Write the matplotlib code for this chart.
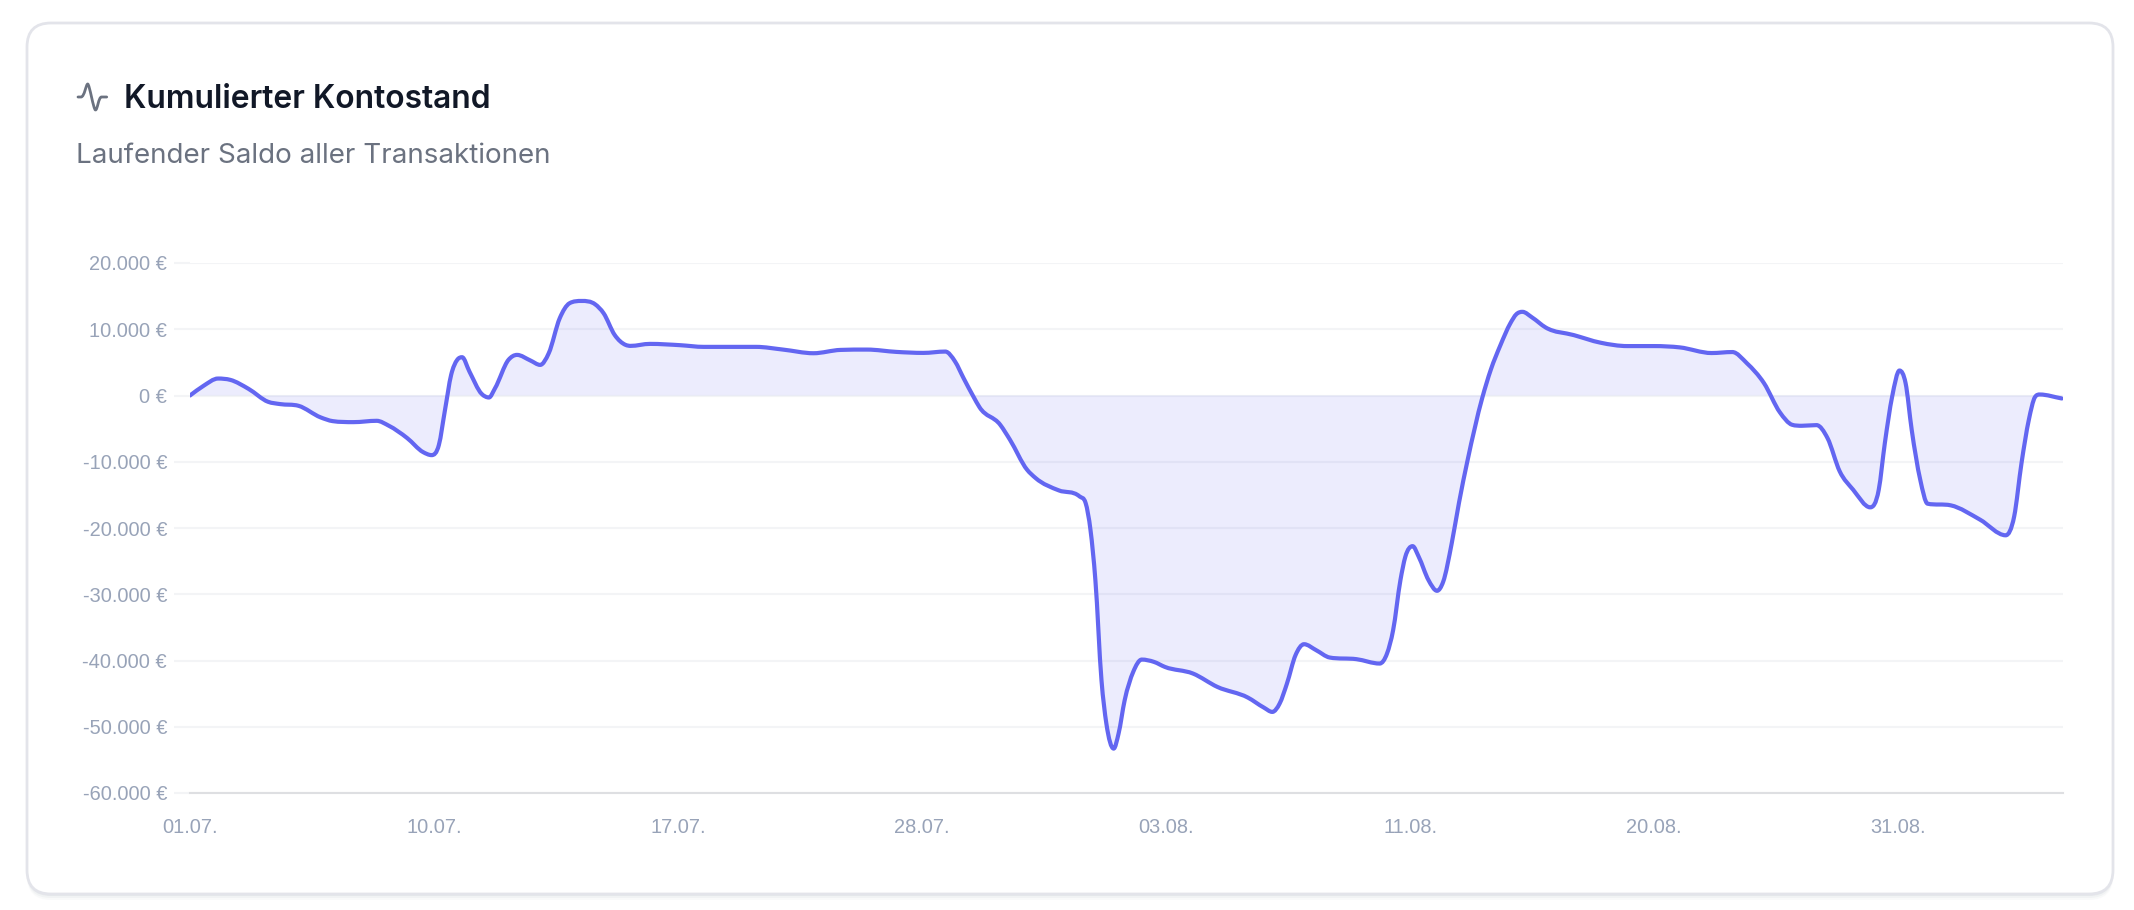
import numpy as np
import matplotlib
matplotlib.use("Agg")
import matplotlib.pyplot as plt
from matplotlib.patches import FancyBboxPatch, PathPatch
from matplotlib.path import Path

# Daten
x_pos = [0, 1.1, 2.3, 3.3, 4.8, 6.4, 7.4, 8.9, 10.7, 11.7, 13.4, 15.3, 16.3, 17.8, 19.1, 19.8,
         20.4, 20.9, 21.4, 21.9, 22.3, 22.9, 23.9, 24.5, 25.0, 26.1, 26.8, 27.9, 28.7, 29.4,
         30.3, 31.1, 32.1, 33.2, 33.9, 34.8, 35.7, 36.1, 37.7, 40.2, 42.1, 46.4, 48.6, 51.1,
         53.3, 55.5, 57.9, 60.1, 61.9, 62.7, 63.4, 64.2, 64.7, 66.4, 67.2, 68.6, 69.3, 71.2,
         72.9, 73.4, 73.8, 74.2, 74.7, 75.1, 75.7, 76.1, 76.6, 77.3, 78.0, 79.0, 79.9,
         82.2, 84.2, 86.7, 88.0, 88.7, 89.3, 89.9, 90.6, 91.3, 92.3, 93.4, 95.6, 97.5, 98.1,
         98.6, 99.2, 99.6, 100.2, 100.7, 101.5, 102.2, 102.7, 103.4, 104.0, 104.7, 105.9,
         106.6, 107.4, 108.2, 108.7, 109.2, 110.0, 111.1, 113.4, 115.6, 117.8, 120.0, 122.1,
         124.7, 126.4, 127.6, 129.0, 130.3, 131.3, 132.1, 133.3, 134.2, 135.2, 136.3, 137.7,
         138.4, 138.9, 139.5, 140.1, 140.6, 141.1, 141.8, 142.4, 144.3, 146.7, 148.8, 149.5,
         150.1, 150.7, 151.2, 151.6, 153.4]
saldo = [0, 1450, 2560, 2360, 1000, -950, -1300, -1560, -3300, -3870, -4020, -3820, -4570, -6430,
         -8540, -9000, -7440, -2160, 3100, 5380, 5780, 3620, 250, -300, 1100, 5380, 6130, 5280,
         4620, 6380, 11660, 13920, 14270, 13770, 12410, 9150, 7640, 7490, 7790, 7590, 7340, 7340,
         6930, 6380, 6880, 6930, 6580, 6430, 6630, 5130, 2610, -150, -1760, -4420, -6680, -11200,
         -12460, -14320, -15230, -16230, -20320, -27870, -42980, -49520, -53300, -51030,
         -46000, -41720, -39860, -40210, -40970, -41970, -43990, -45600, -47100, -47760, -46500,
         -43480, -39200, -37540, -38450, -39550, -39800, -40460, -38950, -35430, -27870, -24350,
         -22740, -24350, -27870, -29480, -28130, -22340, -16180, -9800, -400, 3860, 7620, 10870,
         12270, 12630, 11770, 10270, 9120, 7970, 7460, 7460, 7260, 6410, 6560, 4860, 1850, -2550,
         -4420, -4570, -4470, -6430, -11450, -14220, -16880, -14220, -7180, -150, 3770, 1860,
         -5170, -12710, -16330, -16580, -18740, -21100, -18240, -10200, -3670, -250, 150, -450]

y_ticks = [20000, 10000, 0, -10000, -20000, -30000, -40000, -50000, -60000]
y_labels = ["20.000 €", "10.000 €", "0 €", "-10.000 €", "-20.000 €", "-30.000 €",
            "-40.000 €", "-50.000 €", "-60.000 €"]
x_ticks = [0, 20, 40, 60, 80, 100, 120, 140]
x_labels = ["01.07.", "10.07.", "17.07.", "28.07.", "03.08.", "11.08.", "20.08.", "31.08."]

LINE = "#6366f1"
W, H = 2134, 910


def smooth_path(x, y):
    # kubische Kurve (Fritsch-Carlson), als Bezier-Pfad
    x = np.array(x, dtype=float)
    y = np.array(y, dtype=float)
    h = np.diff(x)
    s = np.diff(y) / h
    m = np.zeros(len(x))
    for i in range(1, len(x) - 1):
        if s[i - 1] * s[i] > 0:
            p = (s[i - 1] * h[i] + s[i] * h[i - 1]) / (h[i - 1] + h[i])
            m[i] = np.sign(s[i]) * min(abs(p), 3 * min(abs(s[i - 1]), abs(s[i])))
    m[0] = s[0]
    m[-1] = s[-1]
    verts = [(x[0], y[0])]
    codes = [Path.MOVETO]
    for i in range(len(x) - 1):
        verts += [(x[i] + h[i] / 3, y[i] + m[i] * h[i] / 3),
                  (x[i + 1] - h[i] / 3, y[i + 1] - m[i + 1] * h[i] / 3),
                  (x[i + 1], y[i + 1])]
        codes += [Path.CURVE4] * 3
    return verts, codes


fig = plt.figure(figsize=(W / 100, H / 100), dpi=100, facecolor="white")

# Karte im Pixel-Koordinatensystem
bg = fig.add_axes([0, 0, 1, 1])
bg.set_xlim(0, W)
bg.set_ylim(H, 0)
bg.axis("off")
for off, a in [(6, 0.05), (4, 0.08), (2, 0.12)]:
    bg.add_patch(FancyBboxPatch((27, 23 + off), 2086, 871, boxstyle="round,pad=0,rounding_size=24",
                                fc="#9ca3af", ec="none", alpha=a))
bg.add_patch(FancyBboxPatch((27, 23), 2086, 871, boxstyle="round,pad=0,rounding_size=24",
                            fc="white", ec="#e3e4ea", lw=2))

# Icon
icon = Path([(78, 97), (81, 97), (84.5, 97), (86, 84), (87.7, 84), (89.5, 84), (93.5, 110), (95.5, 110),
             (97.5, 110), (98.5, 97), (101.5, 97), (106.7, 97)],
            [Path.MOVETO, Path.LINETO] + [Path.CURVE4] * 9 + [Path.LINETO])
bg.add_patch(PathPatch(icon, fc="none", ec="#6b7280", lw=2, capstyle="round", joinstyle="round"))

bg.text(124, 99.5, "Kumulierter Kontostand", family=["Inter", "DejaVu Sans"], fontweight=600,
        fontsize=22.9, color="#111827", va="center")
bg.text(76, 156, "Laufender Saldo aller Transaktionen", family=["Inter", "DejaVu Sans"],
        fontsize=20, color="#6b7280", va="center")

# Chart
ax = fig.add_axes([190 / W, 1 - 793 / H, (2063 - 190) / W, (793 - 263) / H])
ax.set_xlim(0, 153.5)
ax.set_ylim(-60000, 20000)
ax.patch.set_alpha(0)
for name in ["top", "right", "left"]:
    ax.spines[name].set_visible(False)
ax.spines["bottom"].set_color("#dedfe2")
ax.spines["bottom"].set_linewidth(1.5)
ax.grid(axis="y", color="#f3f4f6", lw=1.5)
ax.set_axisbelow(True)

ax.set_yticks(y_ticks)
ax.set_yticklabels(y_labels, family="Liberation Sans", fontsize=14.4, color="#98a3b8")
ax.set_xticks(x_ticks)
ax.set_xticklabels(x_labels, family="Liberation Sans", fontsize=14.4, color="#98a3b8")
ax.tick_params(axis="y", length=11.5, width=1.5, color="#f3f4f6", pad=5)
ax.tick_params(axis="x", length=0, pad=18)

verts, codes = smooth_path(x_pos, saldo)
area = Path(verts + [(x_pos[-1], 0), (x_pos[0], 0), (x_pos[0], 0)],
            codes + [Path.LINETO, Path.LINETO, Path.CLOSEPOLY])
ax.add_patch(PathPatch(area, fc=LINE, ec="none", alpha=0.12, zorder=2))
ax.add_patch(PathPatch(Path(verts, codes), fc="none", ec=LINE, lw=3, zorder=3,
                       capstyle="round", joinstyle="round"))

fig.savefig("out.png", dpi=100, facecolor="white")
